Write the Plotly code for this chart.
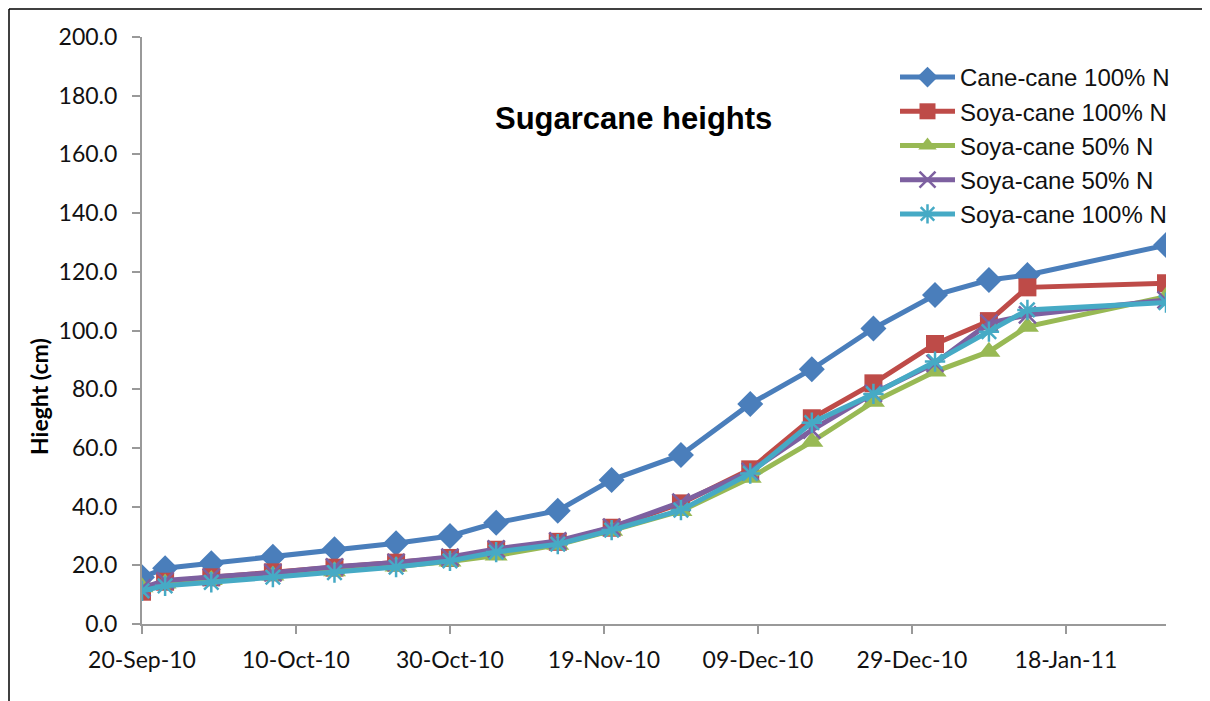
import plotly.graph_objects as go

# sampling dates and plant heights (cm)
dates = ["2010-09-20", "2010-09-23", "2010-09-29", "2010-10-07", "2010-10-15",
         "2010-10-23", "2010-10-30", "2010-11-05", "2010-11-13", "2010-11-20",
         "2010-11-29", "2010-12-08", "2010-12-16", "2010-12-24", "2011-01-01",
         "2011-01-08", "2011-01-13", "2011-01-31"]

cane_cane_100 = [15.9, 19.0, 20.7, 22.9, 25.5, 27.5, 30.0, 34.5, 38.6, 49.1,
                 57.6, 75.0, 86.8, 100.7, 112.1, 117.2, 118.9, 129.1]
soya_cane_100 = [11.0, 14.4, 15.9, 17.6, 19.2, 20.9, 22.5, 25.3, 28.0, 32.8,
                 41.1, 52.7, 70.1, 82.0, 95.4, 103.2, 114.7, 116.1]
soya_cane_50 = [12.5, 13.8, 15.0, 16.5, 18.0, 19.6, 21.3, 23.3, 27.0, 31.8,
                38.5, 49.8, 62.1, 75.7, 86.0, 92.8, 101.3, 111.5]
soya_cane_50b = [12.3, 14.8, 16.0, 17.5, 19.5, 21.0, 22.8, 25.6, 28.3, 33.0,
                 41.5, 52.0, 66.1, 78.6, 88.8, 102.5, 105.3, 110.4]
soya_cane_100b = [11.3, 13.0, 14.2, 16.0, 17.5, 19.4, 21.5, 24.5, 27.2, 32.0,
                  38.8, 51.3, 68.6, 78.4, 89.4, 99.6, 107.0, 109.5]

names = ["Cane-cane 100% N", "Soya-cane 100% N", "Soya-cane 50% N",
         "Soya-cane 50% N", "Soya-cane 100% N"]
series = [cane_cane_100, soya_cane_100, soya_cane_50, soya_cane_50b, soya_cane_100b]
colors = ["#4A7EBB", "#BE4B48", "#98B954", "#7D60A0", "#46AAC5"]
symbols = ["diamond", "square", "triangle-up", "x-thin", "asterisk"]
sizes = [20, 18, 20, 17, 17]

tick_dates = ["2010-09-20", "2010-10-10", "2010-10-30", "2010-11-19",
              "2010-12-09", "2010-12-29", "2011-01-18"]
tick_text = ["20-Sep-10", "10-Oct-10", "30-Oct-10", "19-Nov-10",
             "09-Dec-10", "29-Dec-10", "18-Jan-11"]

# plot area in screen pixels (page is offset by an 8px body margin)
L, T, R, B = 142, 37, 1166, 624
OFF = 8
PW, PH = R - L, B - T


def px(x):
    return (x - L) / PW


def py(y):
    return (B - y) / PH


fig = go.Figure()
for name, ys, c, sym, sz in zip(names, series, colors, symbols, sizes):
    mk = dict(symbol=sym, size=sz, color=c)
    if sym in ("x-thin", "asterisk"):
        mk["line"] = dict(color=c, width=2.5)
    fig.add_trace(go.Scatter(x=dates, y=ys, name=name, mode="lines+markers",
                             line=dict(color=c, width=5), marker=mk))

fig.update_layout(
    width=1210, height=701,
    margin=dict(l=L - OFF, r=1210 + OFF - R, t=T - OFF, b=701 + OFF - B),
    paper_bgcolor="white", plot_bgcolor="white",
    font=dict(family="Lato, Arial, sans-serif", size=20, color="#111"),
    legend=dict(x=px(895), y=py(55), xanchor="left", yanchor="top",
                bgcolor="rgba(0,0,0,0)", tracegroupgap=0,
                font=dict(family="Arial, Liberation Sans", size=24, color="#111"),
                itemwidth=55),
    showlegend=True,
)
fig.update_xaxes(type="date", range=["2010-09-20", "2011-01-31"],
                 tickvals=tick_dates, ticktext=tick_text,
                 showgrid=False, showline=True, linecolor="#999", linewidth=2,
                 ticks="outside", tickcolor="#999", ticklen=8, tickwidth=2,
                 ticklabelstandoff=6,
                 zeroline=False, tickfont=dict(size=23))
fig.update_yaxes(range=[0, 200], dtick=20, tickformat=".1f",
                 showgrid=False, showline=True, linecolor="#999", linewidth=2,
                 ticks="outside", tickcolor="#999", ticklen=8, tickwidth=2,
                 ticklabelstandoff=10,
                 zeroline=False, tickfont=dict(size=23))

fig.add_annotation(text="<b>Sugarcane heights</b>", x=px(633), y=py(118),
                   xref="paper", yref="paper", showarrow=False,
                   xanchor="center", yanchor="middle",
                   font=dict(family="Arial, Liberation Sans", size=31, color="black"))
fig.add_annotation(text="<b>Hieght (cm)</b>", textangle=-90,
                   x=px(39), y=py(397), xref="paper", yref="paper", showarrow=False,
                   xanchor="center", yanchor="middle",
                   font=dict(family="Lato, Arial", size=23, color="black"))

# outer chart frame
fig.add_shape(type="line", xref="paper", yref="paper",
              x0=px(9), x1=px(1205), y0=py(9), y1=py(9),
              line=dict(color="black", width=1.5))
fig.add_shape(type="line", xref="paper", yref="paper",
              x0=px(9), x1=px(9), y0=py(9), y1=py(701),
              line=dict(color="black", width=1.5))

fig.write_html("out.html")
